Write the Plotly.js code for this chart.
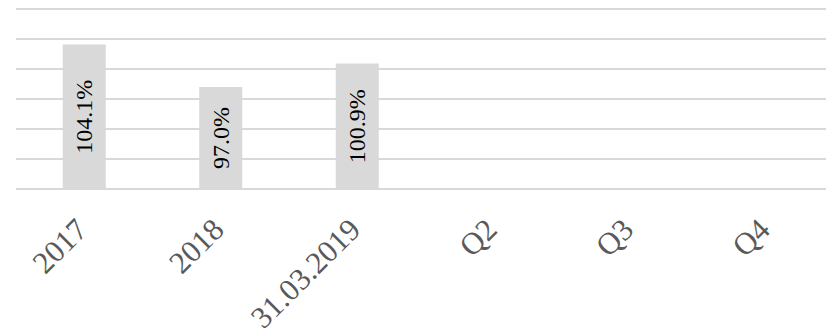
<!DOCTYPE html>
<html>
<head>
<meta charset="utf-8">
<script src="https://cdn.plot.ly/plotly-3.0.1.min.js"></script>
<style>html,body{margin:0;padding:0;background:#fff;}#chart{width:826px;height:328px;}</style>
</head>
<body>
<div id="chart"></div>
<script>
const categories = ["2017", "2018", "31.03.2019", "Q2", "Q3", "Q4"];
const values = [104.1, 97.0, 100.9, null, null, null];
const labels = ["104.1%", "97.0%", "100.9%", "", "", ""];
const yTicks = [80, 85, 90, 95, 100, 105, 110];
const yBase = 80;

const serif = "Liberation Serif";

const trace = {
  type: "bar",
  x: categories,
  y: values.map(v => v === null ? null : v - yBase),
  base: yBase,
  text: labels,
  textposition: "inside",
  insidetextanchor: "middle",
  textangle: -90,
  textfont: {family: serif, size: 24, color: "#000000"},
  marker: {color: "#d9d9d9"},
  hoverinfo: "none"
};

const layout = {
  width: 826, height: 328,
  margin: {l: 16, r: 0, t: 5.5, b: 136},
  paper_bgcolor: "#ffffff", plot_bgcolor: "#ffffff",
  showlegend: false,
  bargap: 0.685,
  xaxis: {
    type: "category",
    range: [-0.5, 5.434],
    tickangle: -45,
    ticklabelstandoff: 12,
    ticklabelshift: -6,
    tickfont: {family: serif, size: 31, color: "#595959"},
    showgrid: false, zeroline: false, showline: false, ticks: ""
  },
  yaxis: {
    range: [79.5, 110.5],
    tickvals: yTicks,
    showticklabels: false,
    showgrid: true, gridcolor: "#d9d9d9", gridwidth: 1.5,
    zeroline: false, showline: false, ticks: ""
  }
};
Plotly.newPlot("chart", [trace], layout, {staticPlot: true});
</script>
</body>
</html>
